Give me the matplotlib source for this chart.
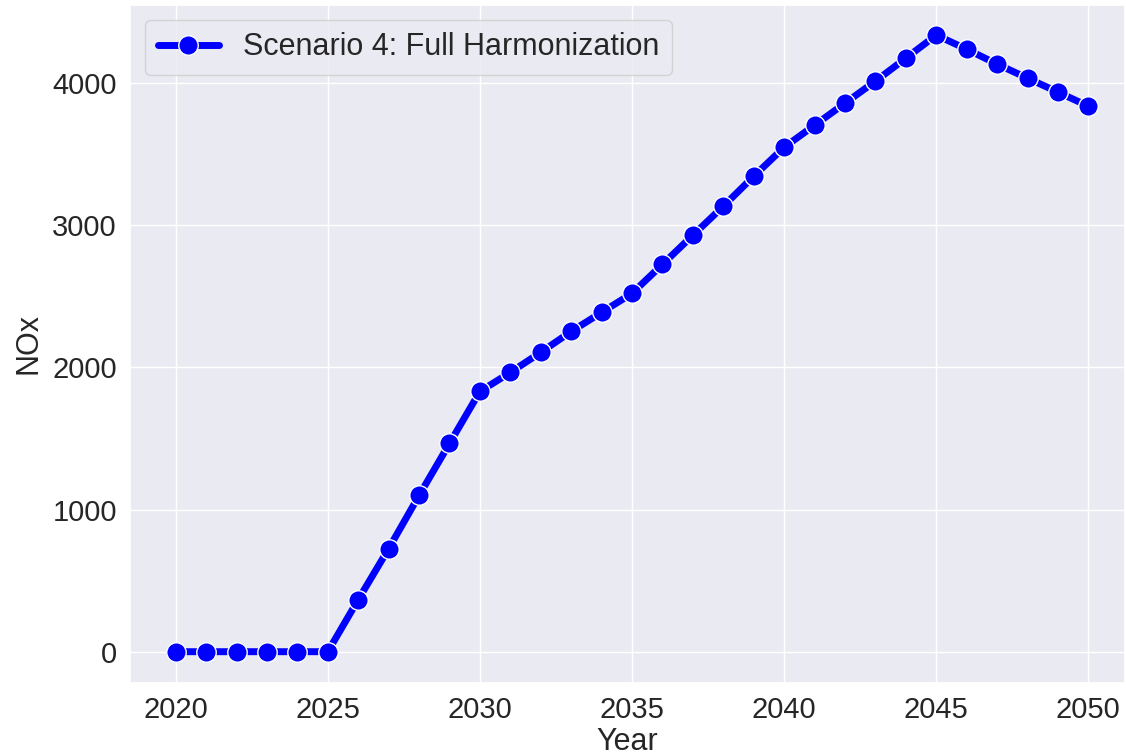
import matplotlib
matplotlib.use("Agg")
import matplotlib.pyplot as plt
import seaborn as sns

# Data
years = list(range(2020, 2051))
nox = [0, 0, 0, 0, 0, 0,
       366, 725, 1099, 1465, 1831,
       1965, 2106, 2253, 2387, 2521,
       2725, 2930, 3134, 3345, 3549,
       3704, 3859, 4014, 4176, 4338,
       4239, 4134, 4035, 3937, 3838]
series_label = "Scenario 4: Full Harmonization"

sns.set_theme(style="darkgrid")
plt.rcParams["font.family"] = ["Liberation Sans", "DejaVu Sans"]

fig = plt.figure(figsize=(11.26, 7.56), dpi=100)
ax = fig.add_axes([0.1155, 0.0966, 0.8835, 0.8968])

ax.plot(years, nox, color="blue", linewidth=5, marker="o", markersize=14,
        markeredgecolor="white", markeredgewidth=1, label=series_label)

ax.set_xlim(2018.5, 2051.2)
ax.set_ylim(-220, 4550)
ax.set_xticks(range(2020, 2051, 5))
ax.set_yticks(range(0, 4001, 1000))
ax.tick_params(labelsize=21)
ax.set_xlabel("Year", fontsize=22, labelpad=2)
ax.set_ylabel("NOx", fontsize=22, labelpad=6)
ax.legend(loc="upper left", fontsize=22)

fig.savefig("out.png", dpi=100)
